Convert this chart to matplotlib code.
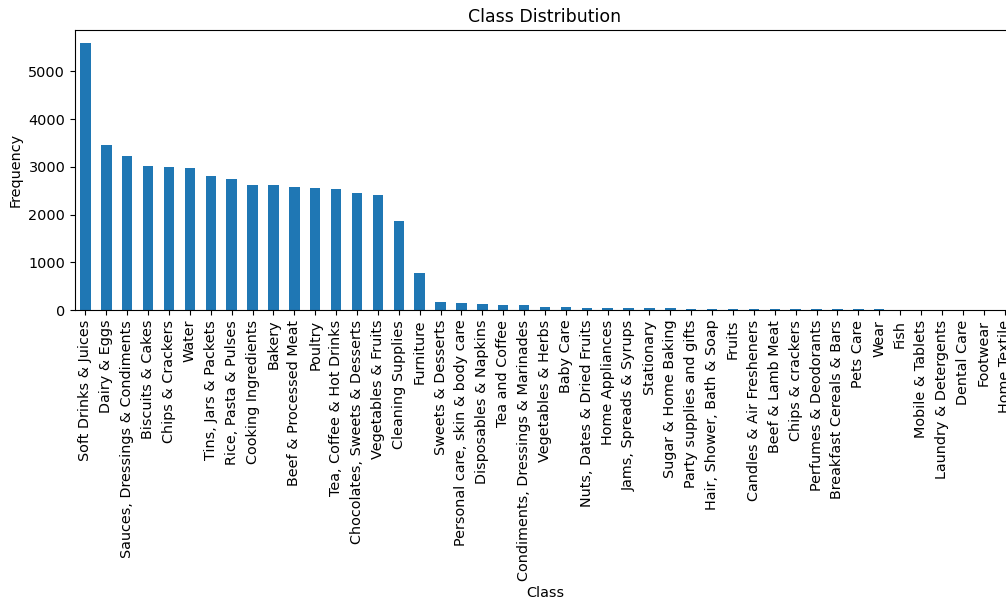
#----grafico de barras: distribucion de clases----#
import matplotlib
matplotlib.use("Agg")
import matplotlib.pyplot as plt

plt.rcParams["font.size"] = 10.4

### categorias (eje x)
classes = ["Soft Drinks & Juices", "Dairy & Eggs", "Sauces, Dressings & Condiments",
           "Biscuits & Cakes", "Chips & Crackers", "Water", "Tins, Jars & Packets",
           "Rice, Pasta & Pulses", "Cooking Ingredients", "Bakery",
           "Beef & Processed Meat", "Poultry", "Tea, Coffee & Hot Drinks",
           "Chocolates, Sweets & Desserts", "Vegetables & Fruits", "Cleaning Supplies",
           "Furniture", "Sweets & Desserts", "Personal care, skin & body care",
           "Disposables & Napkins", "Tea and Coffee", "Condiments, Dressings & Marinades",
           "Vegetables & Herbs", "Baby Care", "Nuts, Dates & Dried Fruits",
           "Home Appliances", "Jams, Spreads & Syrups", "Stationary",
           "Sugar & Home Baking", "Party supplies and gifts", "Hair, Shower, Bath & Soap",
           "Fruits", "Candles & Air Fresheners", "Beef & Lamb Meat", "Chips & crackers",
           "Perfumes & Deodorants", "Breakfast Cereals & Bars", "Pets Care", "Wear",
           "Fish", "Mobile & Tablets", "Laundry & Detergents", "Dental Care",
           "Footwear", "Home Textile"]
### frecuencias
counts = [5590, 3465, 3220, 3025, 2990, 2985, 2815, 2745, 2620, 2615,
          2570, 2550, 2530, 2445, 2405, 1860, 772, 167, 140, 118,
          114, 97, 62, 58, 40, 38, 35, 33, 32, 30,
          30, 28, 28, 27, 26, 25, 25, 24, 22, 2,
          1, 1, 1, 1, 1]

fig = plt.figure(figsize=(10.06, 6.02), dpi=100)
# el eje sigue mas alla del borde derecho, como en la imagen original
ax = fig.add_axes([75 / 1006, 1 - 310 / 602, 940 / 1006, 280 / 602])

pos = list(range(len(classes)))
ax.bar(pos, counts, width=0.5, color="#1f77b4")
ax.set_xlim(-0.5, len(classes) - 0.5)
ax.set_xticks(pos)
ax.set_xticklabels(classes, rotation=90)

#####
ax.set_title("Class Distribution")
ax.set_xlabel("Class")
ax.set_ylabel("Frequency")
plt.savefig("out.png", dpi=100)
